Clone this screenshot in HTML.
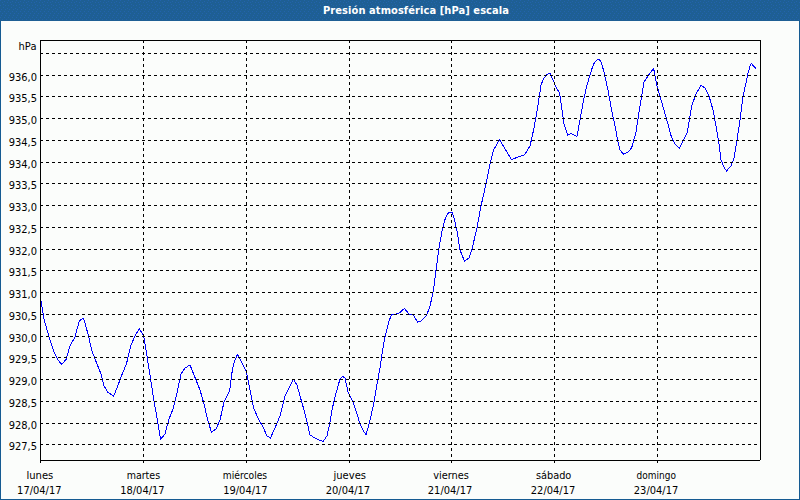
<!DOCTYPE html>
<html><head><meta charset="utf-8"><title>Presión atmosférica</title>
<style>
html,body{margin:0;padding:0;background:#fbfdfb;}
body{width:800px;height:500px;overflow:hidden;position:relative;}
#frame{position:absolute;left:0;top:0;width:798px;height:478px;border:1px solid #155b92;border-top:none;top:21px;}
#bar{position:absolute;left:0;top:0;width:800px;height:21px;background:#1f5f96;}
#bar svg{position:absolute;left:0;top:0;}
#bar span{position:absolute;left:323px;top:4px;letter-spacing:0.08px;font:bold 11px "DejaVu Sans Condensed","DejaVu Sans",sans-serif;font-stretch:condensed;color:#fff;white-space:nowrap;line-height:13px;}
svg{position:absolute;left:0;top:0;}
svg text{font-family:"DejaVu Sans Condensed","DejaVu Sans",sans-serif;font-stretch:condensed;font-size:11px;fill:#000;}
.g{stroke:#000;stroke-width:1;stroke-dasharray:3 3;shape-rendering:crispEdges;}
.gv{stroke:#000;stroke-width:1;stroke-dasharray:3 3;shape-rendering:crispEdges;}
.f{stroke:#000;stroke-width:1;fill:none;shape-rendering:crispEdges;}
.c{stroke:#0000ff;stroke-width:1;fill:none;shape-rendering:crispEdges;}
</style></head><body>
<div id="bar"><svg id="bars" width="800" height="21"><defs><pattern id="dp" width="8" height="21" patternUnits="userSpaceOnUse"><g fill="#2363ac"><rect x="0" y="0" width="1" height="1"/><rect x="4" y="1" width="1" height="1"/><rect x="2" y="2" width="1" height="1"/><rect x="7" y="2" width="1" height="1"/><rect x="3" y="4" width="1" height="1"/><rect x="0" y="5" width="1" height="1"/><rect x="5" y="5" width="1" height="1"/><rect x="3" y="7" width="1" height="1"/><rect x="7" y="8" width="1" height="1"/><rect x="1" y="9" width="1" height="1"/><rect x="5" y="9" width="1" height="1"/><rect x="0" y="11" width="1" height="1"/><rect x="4" y="11" width="1" height="1"/><rect x="2" y="13" width="1" height="1"/><rect x="6" y="13" width="1" height="1"/><rect x="1" y="15" width="1" height="1"/><rect x="5" y="15" width="1" height="1"/><rect x="0" y="17" width="1" height="1"/><rect x="4" y="17" width="1" height="1"/><rect x="2" y="19" width="1" height="1"/><rect x="6" y="19" width="1" height="1"/></g></pattern></defs><rect width="800" height="21" fill="#1e5f94"/><rect width="800" height="21" fill="url(#dp)"/></svg><span>Presión atmosférica [hPa] escala</span></div>
<div id="frame"></div>
<svg width="800" height="500" viewBox="0 0 800 500">
<polyline points="41,301 44,319 49,337 54,352 58,360 61.6,364.4 66,359.6 70,346 75,337 79,322 81,319.4 83.6,318.4 88,334 92,351 97,364 101,374 104,386 108,392.4 113.6,396 117,388 121,377 126.4,364 131,345 135,336 139.4,328.6 143.6,336 146,350 150,375 154,401 157.6,421 160.5,439.5 165,434 169,419 173,409 177,393 181,374 185,368 190,365 194,375 200,390 204,404 208,421 211.4,432 216,429 220,420 224,402 229.6,391 232.6,368 235,360 237.4,354.4 242,363 246.4,372 250,390 253.6,408 258,418 263,427 267,436 270.4,438 275,428 280,416 285,396 289.6,387 293.4,379.4 297,385 300.6,398 304,410 307,422 310,435 315,438 319,440 323,441.4 327,436 329.6,424 332,410 335,397 338,386 340,379 342.4,376.4 345,378 348,392 353,402 357,414 360,424 363,430 366,435 369,424 371,416 374,402 377,384 380,368 382,354 384.4,340 387,329 389,321 391.6,314.6 396,314 400,312.6 404.4,308.4 409,314 413,314.6 417.6,322 421,321 426,316 429.6,308 432,297 433.6,289 436,270 439,248 442,231 443,227 445,219.5 446.5,215.5 448.5,213 450.5,212.5 452,212.5 453.5,216 455,222 457,231 460,250 464.4,261 469,258 472,249 477,228 481,206 486,184 490,164 493.6,150 499.6,139.4 505,149 511.6,159.6 518,157 524.4,155 530,146 534,128 537.6,108 541,85 544,78 547,74.4 550,73 553,80 556,87 559.6,93 562,110 564,124 567.6,135 571,133.4 577,136.4 580,120 583.6,100 587,85 590,75 592.5,67 594.5,62.5 596.5,60.2 598,59.5 599.5,59.9 600.8,61 601.6,63.5 604,72 608,90 611.6,110 615,126 618,142 620,150 623.6,154.4 628,152 631.6,148 636,132 640,106 644,82 648,76 651,72 653.6,68.4 657,86 660,96 664,110 668,124 671.4,137 675,144 679.4,148 684,139 687.4,132 691.6,106 696,94 701,85.4 705,88 709,96 713,110 716,126 719,144 721,160 724,167 726.4,171 731,166 734,158 737,140 740,120 743,96 746,83 747.5,75 749,70 750.5,64.5 751.5,63.5 753.5,66 755.8,68.5" class="c"/>
<line x1="40" y1="53.5" x2="760" y2="53.5" class="g"/>
<line x1="40" y1="75.5" x2="760" y2="75.5" class="g"/>
<line x1="40" y1="96.5" x2="760" y2="96.5" class="g"/>
<line x1="40" y1="118.5" x2="760" y2="118.5" class="g"/>
<line x1="40" y1="140.5" x2="760" y2="140.5" class="g"/>
<line x1="40" y1="162.5" x2="760" y2="162.5" class="g"/>
<line x1="40" y1="183.5" x2="760" y2="183.5" class="g"/>
<line x1="40" y1="205.5" x2="760" y2="205.5" class="g"/>
<line x1="40" y1="227.5" x2="760" y2="227.5" class="g"/>
<line x1="40" y1="249.5" x2="760" y2="249.5" class="g"/>
<line x1="40" y1="270.5" x2="760" y2="270.5" class="g"/>
<line x1="40" y1="292.5" x2="760" y2="292.5" class="g"/>
<line x1="40" y1="314.5" x2="760" y2="314.5" class="g"/>
<line x1="40" y1="336.5" x2="760" y2="336.5" class="g"/>
<line x1="40" y1="357.5" x2="760" y2="357.5" class="g"/>
<line x1="40" y1="379.5" x2="760" y2="379.5" class="g"/>
<line x1="40" y1="401.5" x2="760" y2="401.5" class="g"/>
<line x1="40" y1="423.5" x2="760" y2="423.5" class="g"/>
<line x1="40" y1="444.5" x2="760" y2="444.5" class="g"/>
<line x1="143.5" y1="40" x2="143.5" y2="463" class="gv"/>
<line x1="246.5" y1="40" x2="246.5" y2="463" class="gv"/>
<line x1="349.5" y1="40" x2="349.5" y2="463" class="gv"/>
<line x1="451.5" y1="40" x2="451.5" y2="463" class="gv"/>
<line x1="554.5" y1="40" x2="554.5" y2="463" class="gv"/>
<line x1="657.5" y1="40" x2="657.5" y2="463" class="gv"/>
<path d="M40.5 463V40.5H760.5M760.5 40V460M40 460.5H760" class="f"/>
<text x="36.6" y="50" text-anchor="end" textLength="18.2" lengthAdjust="spacing">hPa</text>
<text x="37" y="81" text-anchor="end">936,0</text>
<text x="37" y="102" text-anchor="end">935,5</text>
<text x="37" y="124" text-anchor="end">935,0</text>
<text x="37" y="146" text-anchor="end">934,5</text>
<text x="37" y="168" text-anchor="end">934,0</text>
<text x="37" y="189" text-anchor="end">933,5</text>
<text x="37" y="211" text-anchor="end">933,0</text>
<text x="37" y="233" text-anchor="end">932,5</text>
<text x="37" y="255" text-anchor="end">932,0</text>
<text x="37" y="276" text-anchor="end">931,5</text>
<text x="37" y="298" text-anchor="end">931,0</text>
<text x="37" y="320" text-anchor="end">930,5</text>
<text x="37" y="342" text-anchor="end">930,0</text>
<text x="37" y="363" text-anchor="end">929,5</text>
<text x="37" y="385" text-anchor="end">929,0</text>
<text x="37" y="407" text-anchor="end">928,5</text>
<text x="37" y="429" text-anchor="end">928,0</text>
<text x="37" y="450" text-anchor="end">927,5</text>
<text x="39.85" y="479" text-anchor="middle" textLength="26.85" lengthAdjust="spacingAndGlyphs">lunes</text>
<text x="39.35" y="494" text-anchor="middle">17/04/17</text>
<text x="143.4" y="479" text-anchor="middle" textLength="33.5" lengthAdjust="spacingAndGlyphs">martes</text>
<text x="142.4" y="494" text-anchor="middle">18/04/17</text>
<text x="245" y="479" text-anchor="middle" textLength="44.3" lengthAdjust="spacingAndGlyphs">miércoles</text>
<text x="245.4" y="494" text-anchor="middle">19/04/17</text>
<text x="349.75" y="479" text-anchor="middle" textLength="32.5" lengthAdjust="spacingAndGlyphs">jueves</text>
<text x="347.95" y="494" text-anchor="middle">20/04/17</text>
<text x="451" y="479" text-anchor="middle" textLength="35.6" lengthAdjust="spacingAndGlyphs">viernes</text>
<text x="450.05" y="494" text-anchor="middle">21/04/17</text>
<text x="553.65" y="479" text-anchor="middle" textLength="35.4" lengthAdjust="spacingAndGlyphs">sábado</text>
<text x="553.05" y="494" text-anchor="middle">22/04/17</text>
<text x="656.25" y="479" text-anchor="middle" textLength="39.3" lengthAdjust="spacingAndGlyphs">domingo</text>
<text x="656.05" y="494" text-anchor="middle">23/04/17</text>
</svg>
</body></html>
